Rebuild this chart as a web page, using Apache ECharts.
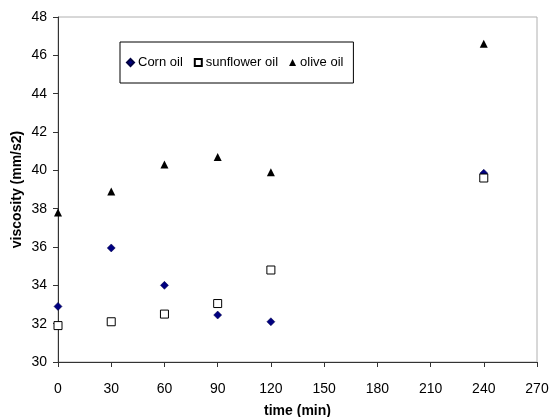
<!DOCTYPE html>
<html>
<head>
<meta charset="utf-8">
<script src="https://cdn.jsdelivr.net/npm/echarts@6/dist/echarts.min.js"></script>
<style>
  html, body { margin: 0; padding: 0; background: #fff; }
  #main { width: 552px; height: 417px; }
</style>
</head>
<body>
<div id="main"></div>
<script>
// time points (min)
const times = [0, 30, 60, 90, 120, 240];
// viscosity values (mm/s2)
const cornOil = [32.9, 35.95, 34.0, 32.45, 32.1, 39.85];
const sunflowerOil = [31.9, 32.1, 32.5, 33.05, 34.8, 39.6];
const oliveOil = [37.8, 38.9, 40.3, 40.7, 39.9, 46.6];

const pairs = (ys) => times.map((t, i) => [t, ys[i]]);

const myChart = echarts.init(document.getElementById('main'));

const font = 'Liberation Sans, Arial';
const titleStyle = { color: '#000', fontSize: 14, fontWeight: 'bold', fontFamily: font };

const option = {
    animation: false,
    backgroundColor: '#fff',
    grid: {
        left: 58,
        right: 15,
        top: 17,
        bottom: 55,
        outerBoundsMode: 'none',
        containLabel: false,
        show: true,
        borderColor: '#b0b0b0',
        borderWidth: 1
    },
    legend: {
        left: 120,
        top: 42,
        orient: 'horizontal',
        itemGap: 11,
        itemWidth: 7,
        itemHeight: 7,
        padding: [14, 10, 14, 6],
        borderColor: '#000',
        borderWidth: 1,
        textStyle: { color: '#000', fontSize: 13, fontFamily: font, padding: [0, 0, 0, -1] },
        data: ['Corn oil', 'sunflower oil', 'olive oil']
    },
    xAxis: {
        type: 'value',
        min: 0,
        max: 270,
        interval: 30,
        name: 'time (min)',
        nameLocation: 'middle',
        nameGap: 42,
        nameMoveOverlap: false,
        nameTextStyle: titleStyle,
        axisLine: { lineStyle: { color: '#333', width: 1 } },
        axisTick: { show: true, length: 5, lineStyle: { color: '#333' } },
        splitLine: { show: false },
        axisLabel: { color: '#000', fontSize: 14, fontFamily: font, margin: 20 }
    },
    yAxis: {
        type: 'value',
        min: 30,
        max: 48,
        interval: 2,
        name: 'viscosity (mm/s2)',
        nameLocation: 'middle',
        nameGap: 34,
        nameMoveOverlap: false,
        nameTextStyle: titleStyle,
        axisLine: { lineStyle: { color: '#333', width: 1 } },
        axisTick: { show: true, length: 5, lineStyle: { color: '#333' } },
        splitLine: { show: false },
        axisLabel: { color: '#000', fontSize: 14, fontFamily: font, margin: 11 }
    },
    series: [
        {
            name: 'Corn oil',
            type: 'scatter',
            symbol: 'diamond',
            symbolSize: 8,
            itemStyle: { color: '#000080', borderColor: '#000040', borderWidth: 0.5, opacity: 1 },
            data: pairs(cornOil)
        },
        {
            name: 'sunflower oil',
            type: 'scatter',
            symbol: 'rect',
            symbolSize: 8,
            itemStyle: { color: '#fff', borderColor: '#000', borderWidth: 1, opacity: 1 },
            data: pairs(sunflowerOil)
        },
        {
            name: 'olive oil',
            type: 'scatter',
            symbol: 'triangle',
            symbolSize: 8,
            itemStyle: { color: '#000', opacity: 1 },
            data: pairs(oliveOil)
        }
    ]
};

myChart.setOption(option);
</script>
</body>
</html>
